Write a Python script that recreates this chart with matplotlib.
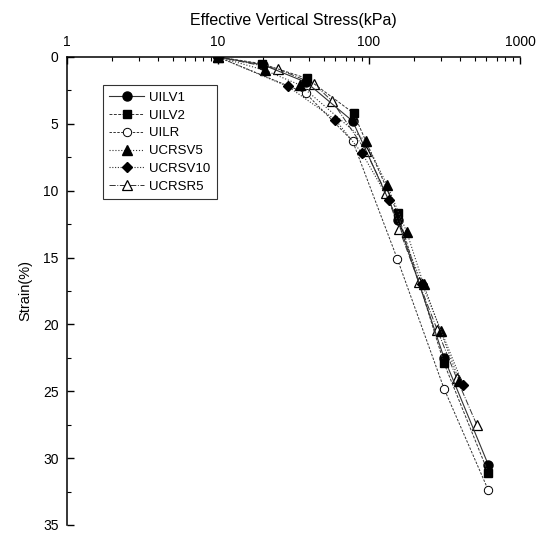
import numpy as np
import matplotlib; matplotlib.use("Agg")
import matplotlib.pyplot as plt
from matplotlib.ticker import LogLocator, NullFormatter, MultipleLocator, FixedLocator, FixedFormatter

plt.rcParams['font.family'] = ['Liberation Sans', 'DejaVu Sans']

# stress (kPa) and strain (%)
uilv1_x = [10, 20, 38.5, 78, 155, 314, 617]
uilv1_y = [0, 0.6, 1.9, 4.8, 12.2, 22.5, 30.5]
uilv2_x = [10, 19.5, 38.7, 79, 155, 314, 617]
uilv2_y = [0, 0.5, 1.6, 4.2, 11.7, 22.9, 31.1]
uilr_x = [10, 38, 78, 154, 314, 617]
uilr_y = [0, 2.7, 6.3, 15.1, 24.8, 32.4]
ucrsv5_x = [10, 20.5, 35, 95, 132, 178, 230, 298, 395]
ucrsv5_y = [0, 1.0, 2.1, 6.3, 9.6, 13.1, 17.0, 20.5, 24.2]
ucrsv10_x = [10, 29, 60, 90, 136, 225, 420]
ucrsv10_y = [0, 2.2, 4.7, 7.2, 10.7, 17.0, 24.5]
ucrsr5_x = [10, 25, 43, 57, 95, 130, 159, 213, 283, 380, 517]
ucrsr5_y = [0, 0.9, 2.0, 3.3, 7.0, 10.2, 12.9, 16.8, 20.4, 24.0, 27.5]

fig = plt.figure(figsize=(5.37, 5.34), dpi=100)
ax = fig.add_axes([0.1248, 0.0169, 0.8435, 0.8764])

lc = '#333333'
ax.plot(ucrsr5_x, ucrsr5_y, '-.', color=lc, lw=0.7, marker='^', ms=7.5, mfc='white', mec='k', mew=0.9, label='UCRSR5')
ax.plot(uilr_x, uilr_y, '--', color=lc, lw=0.7, dashes=(2.5, 1.5), marker='o', ms=6, mfc='white', mec='k', mew=0.7, label='UILR')
ax.plot(uilv1_x, uilv1_y, '-', color=lc, lw=0.8, marker='o', ms=6.5, mfc='k', mec='k', label='UILV1')
ax.plot(uilv2_x, uilv2_y, '--', color=lc, lw=0.7, dashes=(3, 1.5), marker='s', ms=5.5, mfc='k', mec='k', label='UILV2')
ax.plot(ucrsv5_x, ucrsv5_y, ':', color=lc, lw=0.8, marker='^', ms=7.5, mfc='k', mec='k', label='UCRSV5')
ax.plot(ucrsv10_x, ucrsv10_y, ':', color=lc, lw=0.8, dashes=(1, 1.5), marker='D', ms=5.5, mfc='k', mec='k', label='UCRSV10')

ax.set_xscale('log')
ax.set_xlim(1, 1000)
ax.set_ylim(35, 0)
ax.xaxis.tick_top()
ax.xaxis.set_label_position('top')
ax.xaxis.set_major_locator(FixedLocator([1, 10, 100, 1000]))
ax.xaxis.set_major_formatter(FixedFormatter(['1', '10', '100', '1000']))
ax.xaxis.set_minor_locator(LogLocator(base=10, subs=np.arange(2, 10)))
ax.xaxis.set_minor_formatter(NullFormatter())
ax.yaxis.set_major_locator(MultipleLocator(5))
ax.yaxis.set_minor_locator(MultipleLocator(2.5))

for s in ('bottom', 'right'):
    ax.spines[s].set_visible(False)
ax.spines['top'].set_linewidth(1.1)
ax.spines['left'].set_linewidth(1.1)
ax.tick_params(which='major', direction='in', length=5, width=1, labelsize=10, pad=6)
ax.tick_params(which='minor', direction='in', length=3, width=0.8)

ax.set_xlabel('Effective Vertical Stress(kPa)', fontsize=11.5, labelpad=7)
ax.set_ylabel('Strain(%)', fontsize=10.5, labelpad=8)

# legend order as in the reference
h, l = ax.get_legend_handles_labels()
order = ['UILV1', 'UILV2', 'UILR', 'UCRSV5', 'UCRSV10', 'UCRSR5']
hd = dict(zip(l, h))
leg = ax.legend([hd[k] for k in order], order, loc='upper left', bbox_to_anchor=(0.079, 0.94),
                borderaxespad=0, fontsize=9.5, frameon=True, fancybox=False, edgecolor='k',
                handlelength=2.6, labelspacing=0.42, borderpad=0.5, handletextpad=0.4)
leg.get_frame().set_linewidth(0.8)

fig.savefig('out.png', dpi=100)
